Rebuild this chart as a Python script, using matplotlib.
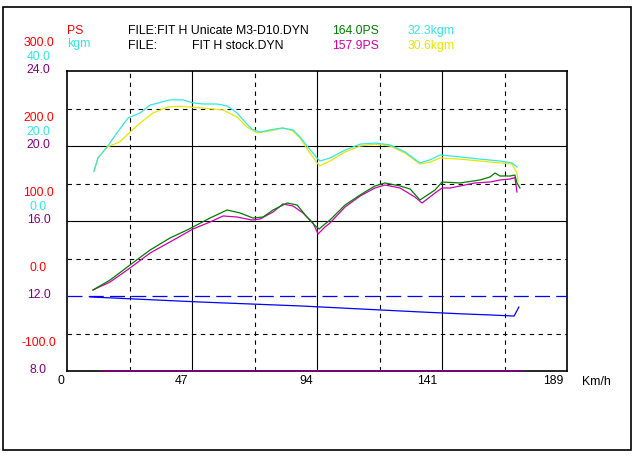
import matplotlib.pyplot as plt
import matplotlib.transforms as mtransforms
from matplotlib.patches import Rectangle

W, H = 633, 457

# torque, Unicate (cyan, kgm)
spd_tq_uni = [10.2, 11.7, 15.1, 18.9, 23.1, 27.6, 31.4, 38.9, 43.8, 47.6, 51.4, 56.7, 60.5,
              64.3, 67.3, 69.9, 73.0, 76.7, 81.3, 85.4, 88.1, 91.1, 94.5, 95.6, 99.4, 105.1,
              110.8, 116.4, 122.1, 127.8, 133.4, 137.2, 141.0, 148.6, 156.1, 163.7, 168.2, 170.1]
tq_uni = [13.3, 16.8, 19.7, 23.5, 27.5, 28.8, 30.9, 32.3, 32.3, 31.5, 31.2, 31.2, 30.7,
          28.8, 26.4, 24.5, 23.7, 24.3, 24.8, 24.3, 22.4, 19.7, 16.8, 16.0, 16.8, 18.9,
          20.5, 20.8, 20.3, 18.4, 15.5, 16.3, 17.6, 17.1, 16.5, 16.0, 15.5, 14.4]

# torque, stock (yellow, kgm)
spd_tq_std = [10.2, 11.7, 15.1, 20.0, 23.8, 27.6, 32.5, 38.2, 42.7, 51.4, 59.0, 64.3, 68.0,
              71.8, 76.7, 81.6, 85.4, 88.1, 91.1, 94.5, 95.6, 99.4, 105.1, 110.8, 116.4,
              122.1, 127.8, 133.4, 137.2, 141.0, 148.6, 156.1, 163.7, 168.2, 170.1, 170.5]
tq_std = [13.3, 16.8, 19.7, 21.1, 23.7, 26.1, 28.8, 30.4, 30.6, 30.1, 29.6, 27.7, 25.1,
          23.5, 24.0, 24.8, 24.0, 22.1, 18.9, 15.5, 14.7, 16.0, 18.4, 20.0, 20.5,
          20.0, 18.1, 15.2, 15.7, 16.8, 16.5, 16.0, 15.5, 15.2, 12.8, 10.4]

# power, Unicate (green, PS)
spd_ps_uni = [9.8, 16.3, 23.8, 31.4, 38.9, 45.4, 47.6, 54.1, 60.5, 65.4, 70.3, 74.1, 77.9,
              83.2, 87.0, 90.7, 93.5, 95.3, 97.5, 99.4, 105.1, 110.8, 116.4, 120.2, 125.9,
              129.7, 133.4, 139.1, 141.8, 148.6, 156.1, 159.9, 161.8, 163.7, 167.5, 169.3,
              170.1, 171.2]
ps_uni = [8.0, 21.3, 41.3, 61.3, 77.3, 88.0, 92.0, 104.0, 114.7, 110.7, 104.0, 105.3, 114.7,
          124.0, 121.3, 105.3, 94.7, 89.3, 96.0, 101.3, 121.3, 134.7, 146.7, 150.7, 146.7,
          142.7, 128.0, 141.3, 152.0, 150.7, 154.7, 158.7, 164.0, 160.0, 160.0, 161.3,
          150.7, 144.0]

# power, stock (magenta, PS)
spd_ps_std = [9.8, 16.3, 23.8, 31.4, 38.9, 47.6, 54.1, 59.0, 64.3, 69.9, 73.0, 77.9, 81.6,
              85.4, 89.2, 93.0, 94.9, 97.5, 99.4, 105.1, 110.8, 116.4, 120.2, 125.9, 131.5,
              134.2, 139.1, 141.8, 144.8, 154.2, 159.9, 163.7, 167.5, 169.3, 170.1]
ps_std = [8.0, 18.7, 37.3, 57.3, 72.0, 89.3, 98.7, 106.7, 105.3, 101.3, 102.7, 112.0, 122.7,
          120.0, 110.7, 97.3, 82.7, 92.0, 97.3, 118.7, 133.3, 144.0, 148.0, 144.0, 132.0,
          124.0, 137.3, 144.0, 144.0, 150.7, 152.0, 154.7, 156.0, 157.9, 138.7]

# third scale (blue / purple)
spd_blue = [8.7, 50.3, 88.1, 133.4, 150.5, 159.9, 169.0, 170.8]
blue = [11.95, 11.68, 11.47, 11.15, 11.04, 10.99, 10.93, 11.41]
blue_ref = 12.0
spd_base = [13.2, 172.4]
base = [8.0, 8.0]

x_ticks = [0, 47, 94, 141, 189]
ps_ticks = [300, 200, 100, 0, -100]
kgm_ticks = [40, 20, 0]
aux_ticks = [24, 20, 16, 12, 8]

RED = '#ff0000'
CYAN = '#33e6e6'
PURPLE = '#800080'
GREEN = '#007f00'
MAGENTA = '#d000b0'
YELLOW = '#e6e600'
BLUE = '#0000ff'

plt.rcParams['font.family'] = ['Liberation Sans', 'DejaVu Sans']
fs = 8.8

fig = plt.figure(figsize=(W / 100, H / 100), dpi=100)
fig.patch.set_facecolor('white')


def fx(px):
    return px / W


def fy(py):
    return 1 - py / H


fig.patches.append(Rectangle((fx(3), fy(450)), fx(628), 443 / H, transform=fig.transFigure,
                             fill=False, ec='black', lw=1.2))

ax = fig.add_axes([fx(67), fy(371), 500 / W, 300 / H])
ax.set_xlim(0, 189)
ax.set_ylim(-100, 300)
ax2 = ax.twinx()
ax2.set_ylim(-40, 40)
ax3 = ax.twinx()
ax3.set_ylim(8, 24)
for a in (ax, ax2, ax3):
    a.set_xticks([])
    a.set_yticks([])
    for s in a.spines.values():
        s.set_visible(False)
for s in ax.spines.values():
    s.set_visible(True)
    s.set_linewidth(1.2)
    s.set_zorder(5)

# grid
for i in range(1, 8):
    xv = 189 * i / 8
    ls = '-' if i % 2 == 0 else (0, (4, 4))
    ax.axvline(xv, color='black', lw=0.8, ls=ls, zorder=1)
for i in range(1, 8):
    yv = -100 + 50 * i
    if yv == 0:
        continue
    ls = '-' if i % 2 == 0 else (0, (4, 4))
    ax.axhline(yv, color='black', lw=0.8, ls=ls, zorder=1)

ax3.axhline(blue_ref, color=BLUE, lw=0.9, ls=(0, (12, 5)))
ax3.plot(spd_blue, blue, color=BLUE, lw=0.9)
ax3.plot(spd_base, base, color=PURPLE, lw=1.2, clip_on=False, zorder=6)

ax2.plot(spd_tq_std, tq_std, color=YELLOW, lw=0.9)
ax2.plot(spd_tq_uni, tq_uni, color=CYAN, lw=0.9)
ax.plot(spd_ps_std, ps_std, color=MAGENTA, lw=0.9)
ax.plot(spd_ps_uni, ps_uni, color=GREEN, lw=0.9)

# y labels
lx = (38.5 - 67) / 500
for v in ps_ticks:
    t = mtransforms.offset_copy(mtransforms.blended_transform_factory(ax.transAxes, ax.transData),
                                fig=fig, y=28, units='dots')
    ax.text(lx, v, f'{v:.1f}', color=RED, fontsize=fs, ha='center', va='center', transform=t)
for v in kgm_ticks:
    t = mtransforms.offset_copy(mtransforms.blended_transform_factory(ax2.transAxes, ax2.transData),
                                fig=fig, y=14, units='dots')
    ax2.text(lx, v, f'{v:.1f}', color=CYAN, fontsize=fs, ha='center', va='center', transform=t)
for v in aux_ticks:
    t = mtransforms.offset_copy(mtransforms.blended_transform_factory(ax3.transAxes, ax3.transData),
                                fig=fig, y=1, units='dots')
    ax3.text(lx, v, f'{v:.1f}', color=PURPLE, fontsize=fs, ha='center', va='center', transform=t)

# x labels
for v in x_ticks:
    t = mtransforms.offset_copy(mtransforms.blended_transform_factory(ax.transData, ax.transAxes),
                                fig=fig, x=-3, y=-10, units='dots')
    ax.text(v, 0, str(v), color='black', fontsize=fs, ha='right', va='center', transform=t)
fig.text(fx(582), fy(382), 'Km/h', fontsize=fs, ha='left', va='center')

# header
fig.text(fx(67), fy(31), 'PS', color=RED, fontsize=fs, va='center')
fig.text(fx(67), fy(44), 'kgm', color=CYAN, fontsize=fs, va='center')
fig.text(fx(128), fy(31), 'FILE:FIT H Unicate M3-D10.DYN', fontsize=fs, va='center')
fig.text(fx(128), fy(46), 'FILE:', fontsize=fs, va='center')
fig.text(fx(192), fy(46), 'FIT H stock.DYN', fontsize=fs, va='center')
fig.text(fx(332), fy(31), f'{max(ps_uni):.1f}PS', color=GREEN, fontsize=fs, va='center')
fig.text(fx(332), fy(46), f'{max(ps_std):.1f}PS', color=MAGENTA, fontsize=fs, va='center')
fig.text(fx(408), fy(31), f'{max(tq_uni):.1f}kgm', color=CYAN, fontsize=fs, va='center')
fig.text(fx(408), fy(46), f'{max(tq_std):.1f}kgm', color=YELLOW, fontsize=fs, va='center')

fig.savefig('out.png', dpi=100)
